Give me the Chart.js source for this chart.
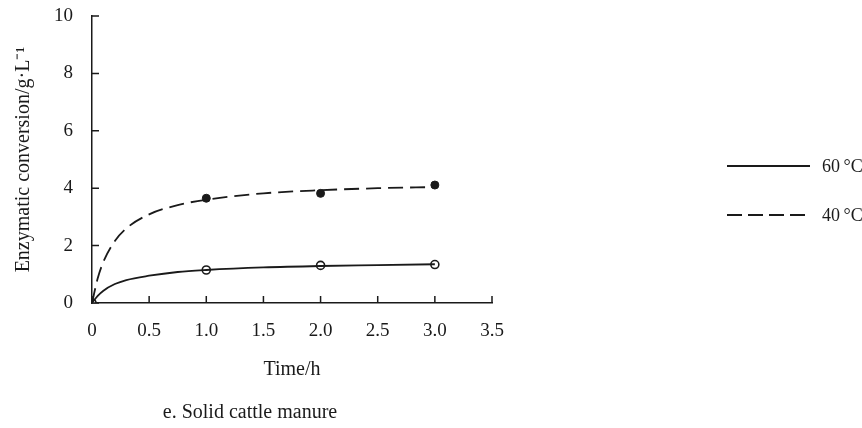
<!DOCTYPE html>
<html>

<head>
    <script src="https://cdn.jsdelivr.net/npm/chart.js@4.4.1/dist/chart.umd.min.js"></script>
</head>

<style>
    body {
        margin: 0;
        background: #fff;
    }

    .wrap {
        position: relative;
        width: 862px;
        height: 428px;
    }
</style>

<body>
    <div class="wrap">
        <canvas id="myChart" width="862" height="428"></canvas>
    </div>
</body>

<script>
    // measured points
    var timePoints = [0, 1, 2, 3];
    var measured60 = [0, 1.15, 1.31, 1.34];
    var measured40 = [null, 3.65, 3.82, 4.11];

    // fitted curves
    var curveTime = [0, 0.05, 0.1, 0.2, 0.3, 0.5, 0.75, 1, 1.5, 2, 2.5, 3];
    var curve60 = [0, 0.25, 0.43, 0.66, 0.8, 0.95, 1.08, 1.15, 1.24, 1.29, 1.32, 1.35];
    var curve40 = [0, 0.86, 1.44, 2.16, 2.6, 3.09, 3.41, 3.6, 3.82, 3.93, 4.0, 4.04];

    var seriesNames = ['60\u2009°C', '40\u2009°C'];
    var xTicks = [0, 0.5, 1.0, 1.5, 2.0, 2.5, 3.0, 3.5];
    var yTicks = [0, 2, 4, 6, 8, 10];
    var caption = 'e. Solid cattle manure';

    var ink = '#1a1a1a';
    var serif = "'Liberation Serif', 'Times New Roman', serif";

    function toXY(xs, ys) {
        var out = [];
        for (var i = 0; i < xs.length; i++) {
            if (ys[i] !== null) out.push({ x: xs[i], y: ys[i] });
        }
        return out;
    }

    // ticks pointing into the plot, legend and caption
    var extras = {
        id: 'extras',
        afterDraw: function (chart) {
            var ctx = chart.ctx;
            var xs = chart.scales.x, ys = chart.scales.y;
            var area = chart.chartArea;
            ctx.save();
            ctx.strokeStyle = ink;
            ctx.lineWidth = 1.5;
            ctx.beginPath();
            xTicks.forEach(function (v) {
                var px = xs.getPixelForValue(v);
                ctx.moveTo(px, area.bottom);
                ctx.lineTo(px, area.bottom - 7);
            });
            yTicks.forEach(function (v) {
                var py = ys.getPixelForValue(v);
                ctx.moveTo(area.left, py);
                ctx.lineTo(area.left + 7, py);
            });
            ctx.stroke();

            // legend
            var items = [
                { y: 166, dash: [] },
                { y: 215, dash: [15, 6] }
            ];
            ctx.font = '18px ' + serif;
            ctx.fillStyle = ink;
            ctx.textBaseline = 'middle';
            items.forEach(function (it, i) {
                ctx.setLineDash(it.dash);
                ctx.lineWidth = 1.8;
                ctx.beginPath();
                ctx.moveTo(727, it.y);
                ctx.lineTo(810, it.y);
                ctx.stroke();
                ctx.setLineDash([]);
                ctx.fillText(seriesNames[i], 822, it.y + 1);
            });

            // caption
            ctx.font = '20px ' + serif;
            ctx.textAlign = 'center';
            ctx.fillText(caption, 250, 413);
            ctx.restore();
        }
    };

    var chartCtx = document.getElementById('myChart').getContext('2d');
    var lineChart = new Chart(chartCtx, {
        type: 'scatter',
        data: {
            datasets: [{
                label: seriesNames[0] + ' fit',
                data: toXY(curveTime, curve60),
                showLine: true,
                borderColor: ink,
                borderWidth: 1.8,
                pointRadius: 0,
                cubicInterpolationMode: 'monotone'
            }, {
                label: seriesNames[1] + ' fit',
                data: toXY(curveTime, curve40),
                showLine: true,
                borderColor: ink,
                borderWidth: 1.8,
                borderDash: [15, 7],
                pointRadius: 0,
                cubicInterpolationMode: 'monotone'
            }, {
                label: seriesNames[0],
                data: toXY(timePoints, measured60),
                showLine: false,
                pointRadius: 4,
                pointBorderWidth: 1.6,
                pointBorderColor: ink,
                pointBackgroundColor: '#fff'
            }, {
                label: seriesNames[1],
                data: toXY(timePoints, measured40),
                showLine: false,
                pointRadius: 4,
                pointBorderWidth: 1,
                pointBorderColor: ink,
                pointBackgroundColor: ink
            }]
        },
        options: {
            responsive: false,
            animation: false,
            layout: {
                padding: { left: 0, top: 0, right: 370, bottom: 0 }
            },
            plugins: {
                legend: { display: false },
                tooltip: { enabled: false }
            },
            scales: {
                x: {
                    type: 'linear',
                    min: 0,
                    max: 3.5,
                    afterBuildTicks: function (scale) {
                        scale.ticks = xTicks.map(function (v) { return { value: v }; });
                    },
                    afterFit: function (scale) { scale.height = 125; },
                    grid: { drawOnChartArea: false, drawTicks: false },
                    border: { color: ink, width: 1.5 },
                    ticks: {
                        color: ink,
                        padding: 17,
                        font: { family: serif, size: 19 },
                        callback: function (v) { return v === 0 ? '0' : v.toFixed(1); }
                    },
                    title: {
                        display: true,
                        text: 'Time/h',
                        color: ink,
                        font: { family: serif, size: 20 },
                        padding: { top: 0, bottom: 46 }
                    }
                },
                y: {
                    min: 0,
                    max: 10,
                    afterBuildTicks: function (scale) {
                        scale.ticks = yTicks.map(function (v) { return { value: v }; });
                    },
                    afterFit: function (scale) {
                        scale.width = 92;
                        scale.paddingTop = 16;
                        scale.paddingBottom = 0;
                    },
                    grid: { drawOnChartArea: false, drawTicks: false },
                    border: { color: ink, width: 1.5 },
                    ticks: {
                        color: ink,
                        padding: 19,
                        font: { family: serif, size: 19 }
                    },
                    title: {
                        display: true,
                        text: 'Enzymatic conversion/g·L⁻¹',
                        color: ink,
                        font: { family: serif, size: 20 },
                        padding: { top: 12, bottom: 0 }
                    }
                }
            }
        },
        plugins: [extras]
    });
</script>

</html>
